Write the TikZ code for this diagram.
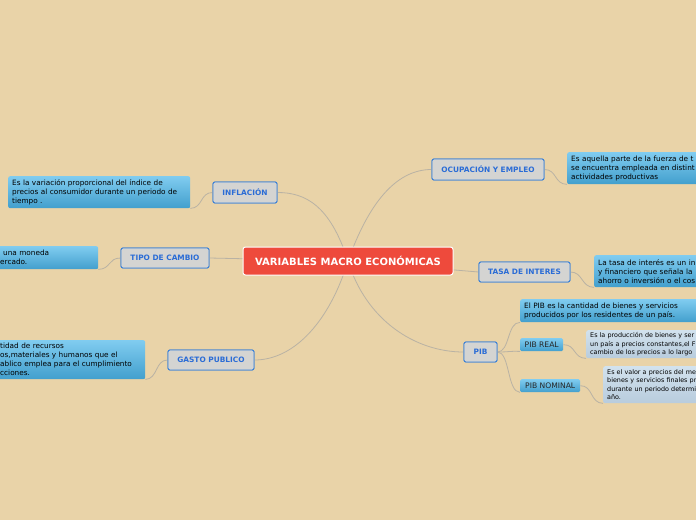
\documentclass[tikz,border=0pt]{standalone}
\usepackage{fontspec}
\setmainfont{DejaVu Sans}
\definecolor{bg}{HTML}{E9D3A8}
\definecolor{topicfill}{HTML}{D4D4D2}
\definecolor{topicborder}{HTML}{3A80D6}
\definecolor{topictext}{HTML}{2A6CD6}
\definecolor{desctop}{HTML}{80CCF0}
\definecolor{descbot}{HTML}{429FCD}
\definecolor{subtop}{HTML}{D2E2EE}
\definecolor{subbot}{HTML}{B8CCDD}
\definecolor{centerred}{HTML}{EE4A3C}
\definecolor{conn}{HTML}{B9B2A4}
\tikzset{
  topic/.style={draw=topicborder, line width=0.9pt, fill=topicfill, rounded corners=2pt,
    text=topictext, font=\fontsize{7.4}{8}\selectfont\bfseries, inner sep=0pt},
  desc/.style={rounded corners=2pt, top color=desctop, bottom color=descbot, anchor=north west,
    font=\fontsize{7.3}{9}\selectfont, align=left, inner xsep=4pt, inner ysep=0pt, text=black},
  subdesc/.style={desc, top color=subtop, bottom color=subbot, font=\fontsize{6.4}{8.2}\selectfont},
  sublabel/.style={rounded corners=1.5pt, top color=desctop, bottom color=descbot, anchor=north west,
    font=\fontsize{7.6}{8}\selectfont, inner sep=0pt, text=black!85},
  conn/.style={draw=conn, line width=0.8pt}
}
\begin{document}
\begin{tikzpicture}[x=1pt,y=-1pt]
\useasboundingbox (0,0) rectangle (696,520);
\clip (0,0) rectangle (696,520);
\fill[bg] (0,0) rectangle (696,520);

% main topic nodes (positions)
\node[topic, minimum width=64pt, minimum height=21pt] (infl) at (245,192.5) {INFLACIÓN};
\node[topic, minimum width=88pt, minimum height=20pt] (tipo) at (165,258) {TIPO DE CAMBIO};
\node[topic, minimum width=86pt, minimum height=20pt] (gasto) at (211,360) {GASTO PUBLICO};
\node[topic, minimum width=112pt, minimum height=21pt] (ocup) at (488,169.5) {OCUPACIÓN Y EMPLEO};
\node[topic, minimum width=91pt, minimum height=20pt] (tasa) at (524.5,272) {TASA DE INTERES};
\node[topic, minimum width=33pt, minimum height=20pt] (pib) at (480.5,352) {PIB};

% descriptions
\node[desc, text width=174pt, minimum height=32pt] (infld) at (8,176)
  {Es la variación proporcional del índice de\\precios al consumidor durante un periodo de\\tiempo .};
\node[desc, text width=94pt, minimum height=23pt] (tipod) at (-4,246)
  {\hspace{3pt}una moneda\\ercado.};
\node[desc, text width=141pt, minimum height=39pt] (gastod) at (-4,340)
  {tidad de recursos\\os,materiales y humanos que el\\ablico emplea para el cumplimiento\\cciones.};
\node[desc, text width=152pt, minimum height=32pt] (ocupd) at (567,152)
  {Es aquella parte de la fuerza de t\\se encuentra empleada en distint\\actividades productivas};
\node[desc, text width=132pt, minimum height=32pt] (tasad) at (594,255)
  {La tasa de interés es un in\\y financiero que señala la\\ahorro o inversión o el cos};
\node[desc, text width=182pt, minimum height=23pt] (pibd) at (520,299)
  {El PIB es la cantidad de bienes y servicios\\producidos por los residentes de un país.};
\node[sublabel, minimum width=43pt, minimum height=13pt] (pibreal) at (520,338) {PIB REAL};
\node[sublabel, minimum width=60pt, minimum height=13pt] (pibnom) at (520,379) {PIB NOMINAL};
\node[subdesc, text width=122pt, minimum height=28pt] (pibreald) at (586,330)
  {Es la producción de bienes y ser\\un país a precios constantes,el F\\cambio de los precios a lo largo};
\node[subdesc, text width=102pt, minimum height=37pt] (pibnomd) at (603,366)
  {Es el valor a precios del me\\bienes y servicios finales pr\\durante un periodo determi\\año.};

% connectors from center
\coordinate (c) at (348,261);
\path[conn] (c) .. controls (330,205) and (305,192.5) .. (infl.east);
\path[conn] (c) .. controls (368,205) and (395,169.5) .. (ocup.west);
\path[conn] (c) -- (tipo.east);
\path[conn] (c) .. controls (330,320) and (295,360) .. (gasto.east);
\path[conn] (c) .. controls (366,320) and (415,352) .. (pib.west);
\path[conn] (c) -- (tasa.west);

% child connectors
\path[conn] (infl.west) .. controls (200,192.5) and (203,208) .. (infld.south east);
\path[conn] (tipo.west) .. controls (108,258) and (111,269) .. (tipod.south east);
\path[conn] (gasto.west) .. controls (155,360) and (158,379) .. (gastod.south east);
\path[conn] (ocup.east) .. controls (557,169.5) and (554,184) .. (ocupd.south west);
\path[conn] (tasa.east) .. controls (583,272) and (581,287) .. (tasad.south west);
\path[conn] (pib.east) .. controls (510,352) and (507,322) .. (pibd.south west);
\path[conn] (pib.east) .. controls (510,352) and (508,351) .. (pibreal.south west);
\path[conn] (pib.east) .. controls (510,352) and (507,392) .. (pibnom.south west);
\path[conn] (pibreal.east) .. controls (576,344.5) and (573,358) .. (pibreald.south west);
\path[conn] (pibnom.east) .. controls (593,385.5) and (590,403) .. (pibnomd.south west);

% redraw topic nodes above connectors
\node[topic, minimum width=64pt, minimum height=21pt] at (infl) {INFLACIÓN};
\node[topic, minimum width=88pt, minimum height=20pt] at (tipo) {TIPO DE CAMBIO};
\node[topic, minimum width=86pt, minimum height=20pt] at (gasto) {GASTO PUBLICO};
\node[topic, minimum width=112pt, minimum height=21pt] at (ocup) {OCUPACIÓN Y EMPLEO};
\node[topic, minimum width=91pt, minimum height=20pt] at (tasa) {TASA DE INTERES};
\node[topic, minimum width=33pt, minimum height=20pt] at (pib) {PIB};

\node[draw=white, line width=1pt, fill=centerred, rounded corners=2.5pt, text=white,
  font=\fontsize{10}{11}\selectfont\bfseries, minimum width=210pt, minimum height=28pt, inner sep=0pt]
  (center) at (c) {VARIABLES MACRO ECONÓMICAS};
\end{tikzpicture}
\end{document}
